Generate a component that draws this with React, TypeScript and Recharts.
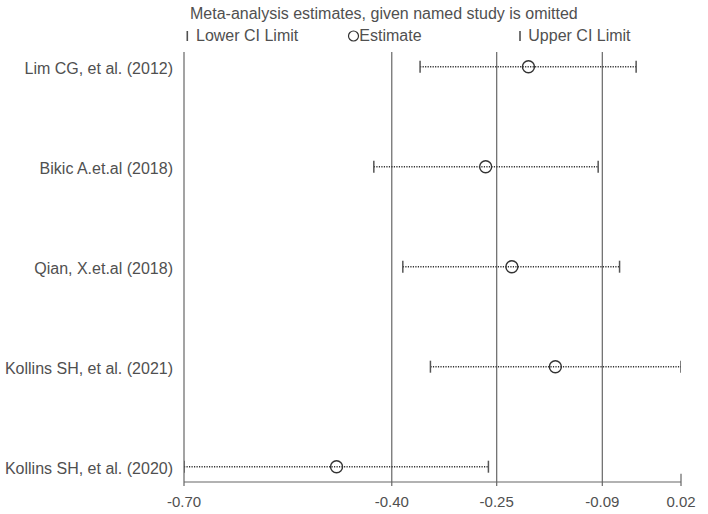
import React from 'react';
import { ComposedChart, XAxis, YAxis, Scatter, ReferenceLine } from 'recharts';

const studies = [
  'Lim CG, et al. (2012)',
  'Bikic A.et.al (2018)',
  'Qian, X.et.al (2018)',
  'Kollins SH, et al. (2021)',
  'Kollins SH, et al. (2020)',
];
const estimates = [-0.201, -0.263, -0.225, -0.162, -0.479];
const lowerCI = [-0.358, -0.425, -0.383, -0.343, -0.7];
const upperCI = [-0.045, -0.1, -0.069, 0.02, -0.259];

const xTicks = [-0.7, -0.399, -0.247, -0.094, 0.02];
const xTickLabels = ['-0.70', '-0.40', '-0.25', '-0.09', '0.02'];
const gridLines = [-0.399, -0.247, -0.094];

const title = 'Meta-analysis estimates, given named study is omitted';
const legendLabels = ['Lower CI Limit', 'Estimate', 'Upper CI Limit'];

const rows = studies.map((_, i) => i);
const estimateData = estimates.map((v, i) => ({ x: v, y: i }));
const ciData = studies.map((_, i) => [
  { x: lowerCI[i], y: i },
  { x: upperCI[i], y: i },
]);

const FONT = '"Liberation Sans", Arial, Helvetica, sans-serif';
const TEXT = '#505050';
const AXIS = '#666';

const CapShape = (p: any) => (
  <line x1={p.cx} x2={p.cx} y1={p.cy - 6} y2={p.cy + 6} stroke="#555" strokeWidth={1.5} />
);
const CircleShape = (p: any) => (
  <circle cx={p.cx} cy={p.cy} r={6} fill="none" stroke="#333" strokeWidth={1.4} />
);

const YTick = (p: any) => (
  <text x={p.x} y={p.y} dy={7.7} textAnchor="end" fontSize={16} fontFamily={FONT} fill={TEXT}>
    {studies[p.payload.value]}
  </text>
);
const XTick = (p: any) => {
  const idx = xTicks.indexOf(p.payload.value);
  return (
    <text x={p.x} y={p.y} dy={19} textAnchor="middle" fontSize={15} fontFamily={FONT} fill={TEXT}>
      {xTickLabels[idx]}
    </text>
  );
};

export default function App() {
  return (
    <div style={{ position: 'absolute', left: 0, top: 0, width: 708, height: 514 }}>
      <ComposedChart width={708} height={514} margin={{ top: 52, right: 27, bottom: 0, left: 0 }}>
        <XAxis
          type="number"
          dataKey="x"
          domain={[-0.7, 0.02]}
          ticks={xTicks}
          interval={0}
          allowDataOverflow
          height={32}
          tickSize={4}
          tickMargin={2}
          axisLine={{ stroke: AXIS, strokeWidth: 1.2 }}
          tickLine={{ stroke: AXIS, strokeWidth: 1.2 }}
          tick={<XTick />}
        />
        <YAxis
          type="number"
          dataKey="y"
          domain={[-0.147, 4.153]}
          reversed
          ticks={rows}
          interval={0}
          allowDataOverflow
          width={184}
          tickLine={false}
          tickSize={0}
          tickMargin={11}
          axisLine={{ stroke: AXIS, strokeWidth: 1.2 }}
          tick={<YTick />}
        />
        {gridLines.map((g) => (
          <ReferenceLine key={g} x={g} stroke={AXIS} strokeWidth={1.2} />
        ))}
        <ReferenceLine
          segment={[
            { x: 0.02, y: 4.153 },
            { x: 0.02, y: 4.07 },
          ]}
          stroke={AXIS}
          strokeWidth={1.2}
        />
        {ciData.map((d, i) => (
          <Scatter
            key={i}
            data={d}
            fill="#555"
            line={{ stroke: '#333', strokeWidth: 1.4, strokeDasharray: '1.2 1.3' }}
            shape={CapShape}
            isAnimationActive={false}
          />
        ))}
        <Scatter data={estimateData} fill="#333" shape={CircleShape} isAnimationActive={false} />
      </ComposedChart>
      <svg
        width={708}
        height={50}
        style={{ position: 'absolute', left: 0, top: 0, pointerEvents: 'none' }}
      >
        <text x={190} y={19} fontSize={16} fontFamily={FONT} fill={TEXT}>
          {title}
        </text>
        <line x1={187.3} x2={187.3} y1={31} y2={41} stroke={TEXT} strokeWidth={1.6} />
        <text x={196} y={41} fontSize={16} fontFamily={FONT} fill={TEXT}>
          {legendLabels[0]}
        </text>
        <circle cx={353.5} cy={36} r={5} fill="none" stroke="#333" strokeWidth={1.2} />
        <text x={359.3} y={41} fontSize={16} fontFamily={FONT} fill={TEXT}>
          {legendLabels[1]}
        </text>
        <line x1={520} x2={520} y1={31} y2={41} stroke={TEXT} strokeWidth={1.6} />
        <text x={528.3} y={41} fontSize={16} fontFamily={FONT} fill={TEXT}>
          {legendLabels[2]}
        </text>
      </svg>
    </div>
  );
}
